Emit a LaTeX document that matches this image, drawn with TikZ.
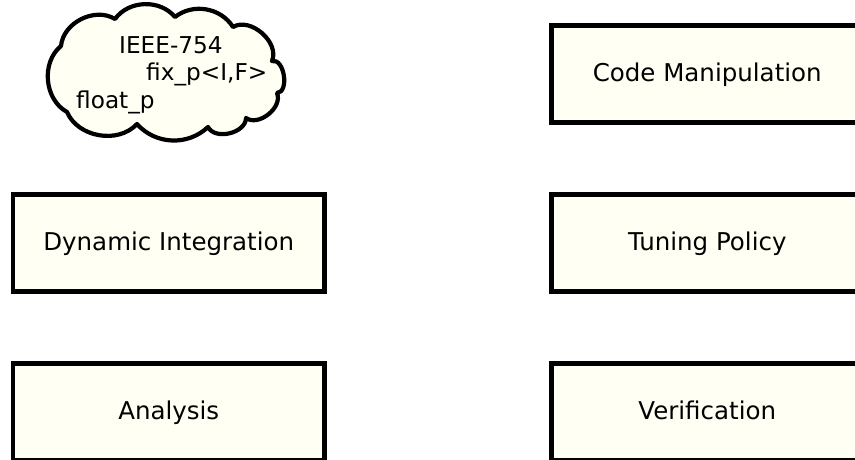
\documentclass[tikz,border=0pt]{standalone}
\usepackage{fontspec}
\setmainfont{DejaVu Sans}
\begin{document}
\begin{tikzpicture}[x=1pt,y=-1pt,
  every node/.style={font=\fontsize{24.5}{27.5}\selectfont},
  block/.style={draw=black,line width=4.2pt,fill=paper,rectangle,
    minimum width=311.5pt,minimum height=97pt,inner sep=0pt,
    text height=18pt,text depth=3pt},
  txt/.style={inner sep=0pt,anchor=base west,font=\fontsize{23.2}{27.5}\selectfont}]
\definecolor{paper}{HTML}{FFFFF4}
\useasboundingbox (0,0) rectangle (855,459);

% cloud holding the number formats
\coordinate (cA) at (61,46);
\coordinate (cB) at (115,19);
\coordinate (cC) at (175,17);
\coordinate (cD) at (233,27);
\coordinate (cE) at (272,61);
\coordinate (cF) at (277,93);
\coordinate (cG) at (246,118);
\coordinate (cH) at (208,127);
\coordinate (cI) at (137,124);
\coordinate (cJ) at (67,112);
\draw[line width=4.2pt,fill=paper,line join=round]
  (cA) to[bend left=58] (cB) to[bend left=52] (cC) to[bend left=48] (cD)
  to[bend left=72] (cE) to[bend left=95] (cF) to[bend left=74] (cG)
  to[bend left=76] (cH) to[bend left=46] (cI) to[bend left=57] (cJ)
  to[bend left=56] (cA) -- cycle;
\node[txt] (ieee) at (119,53) {IEEE-754};
\node[txt] (fixp) at (146,80) {fix\_p<I,F>};
\node[txt] (floatp) at (76,108) {float\_p};

% component boxes
\node[block] (code) at (707.25,74) {Code Manipulation};
\node[block] (dyn) at (168.75,243) {Dynamic Integration};
\node[block] (tune) at (707.25,243) {Tuning Policy};
\node[block] (ana) at (168.75,412) {Analysis};
\node[block] (veri) at (707.25,412) {Verification};
\end{tikzpicture}
\end{document}
